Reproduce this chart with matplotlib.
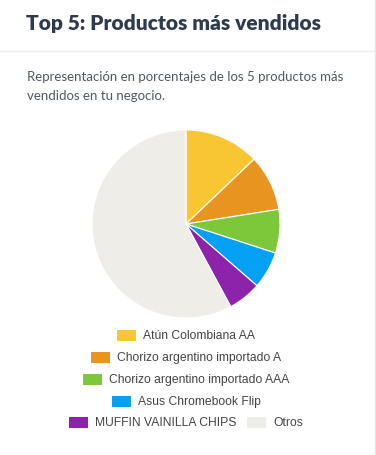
import matplotlib
matplotlib.use("Agg")
import matplotlib.pyplot as plt
from matplotlib.patches import Rectangle

# datos
productos = ["Atún Colombiana AA", "Chorizo argentino importado A",
             "Chorizo argentino importado AAA", "Asus Chromebook Flip",
             "MUFFIN VAINILLA CHIPS", "Otros"]
porcentajes = [12.9, 9.6, 7.5, 6.4, 5.7, 57.9]
colores = ["#F8C632", "#E89421", "#7DC83A", "#03A0F3", "#8D22AB", "#EEEDE7"]
filas_leyenda = [[0], [1], [2], [3], [4, 5]]

W, H = 376, 456
fig = plt.figure(figsize=(W / 100, H / 100), dpi=100)
fig.patch.set_facecolor("white")


def fx(px):
    return px / W


def fy(py):
    return 1 - py / H


# borde de la tarjeta y separador
fig.add_artist(plt.Line2D([fx(0), fx(374)], [fy(52), fy(52)], color="#ECECEC", lw=1))
fig.add_artist(plt.Line2D([fx(374.5), fx(374.5)], [fy(0), fy(456)], color="#E6E6E6", lw=1))

fig.text(fx(26), fy(24), "Top 5: Productos más vendidos", fontsize=15,
         fontweight="heavy", color="#2D3B4F", family="Lato", va="center")
fig.text(fx(27), fy(77), "Representación en porcentajes de los 5 productos más",
         fontsize=9.5, color="#505862", family="Lato", va="center")
fig.text(fx(27), fy(96), "vendidos en tu negocio.",
         fontsize=9.5, color="#505862", family="Lato", va="center")

# pastel
cx, cy, r = 186, 225, 94
ax = fig.add_axes([fx(cx - r), fy(cy + r), 2 * r / W, 2 * r / H])
ax.pie(porcentajes, colors=colores, startangle=90, counterclock=False,
       wedgeprops=dict(edgecolor="white", linewidth=0.8))
ax.set_xlim(-1, 1)
ax.set_ylim(-1, 1)
ax.set_aspect("equal")
ax.axis("off")

# leyenda manual centrada
fig.canvas.draw()
renderer = fig.canvas.get_renderer()
filas_y = [336, 358, 380, 402, 423]
sw_w, sw_h, gap, item_gap = 19, 11, 7, 11
for fila, yy in zip(filas_leyenda, filas_y):
    textos = []
    anchos = []
    for i in fila:
        t = fig.text(0, fy(yy), productos[i], fontsize=8.7, color="#444444",
                     family="Liberation Sans", va="center")
        textos.append(t)
        anchos.append(t.get_window_extent(renderer).width)
    total = sum(sw_w + gap + a for a in anchos) + item_gap * (len(fila) - 1)
    x0 = cx - total / 2
    for i, t, a in zip(fila, textos, anchos):
        fig.add_artist(Rectangle((fx(x0), fy(yy + sw_h / 2)), sw_w / W, sw_h / H,
                                 facecolor=colores[i], edgecolor="none"))
        t.set_x(fx(x0 + sw_w + gap))
        x0 += sw_w + gap + a + item_gap

fig.savefig("out.png", dpi=100)
